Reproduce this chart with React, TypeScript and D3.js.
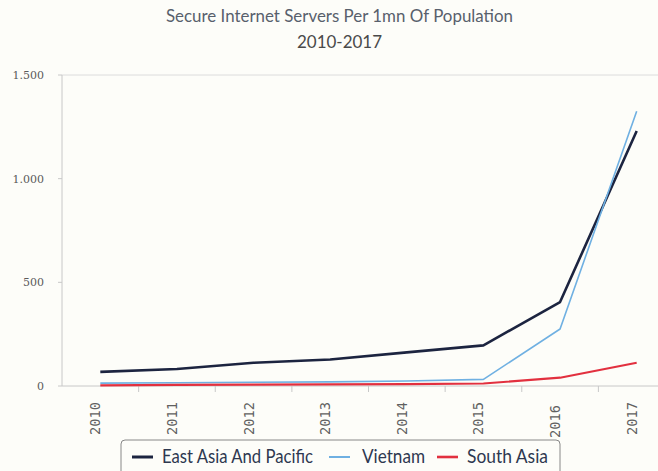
import React from "react";
import * as d3 from "d3";

const years = ["2010", "2011", "2012", "2013", "2014", "2015", "2016", "2017"];
const eastAsia = [68, 82, 112, 128, 162, 196, 405, 1230];
const vietnam = [14, 16, 18, 20, 24, 32, 275, 1325];
const southAsia = [3, 5, 7, 8, 9, 12, 40, 112];
const yTicks = [0, 500, 1000, 1500];
const title1 = "Secure Internet Servers Per 1mn Of Population";
const title2 = "2010-2017";

const series = [
  { name: "East Asia And Pacific", values: eastAsia, color: "#1c2440", width: 2.6 },
  { name: "Vietnam", values: vietnam, color: "#6fb0e2", width: 1.6 },
  { name: "South Asia", values: southAsia, color: "#e2303f", width: 2.2 },
];

export default function App() {
  const W = 658, H = 471;
  const left = 62, right = 675, top = 75, bottom = 386;
  const x = d3.scaleBand<string>().domain(years).range([left, right]);
  const y = d3.scaleLinear().domain([0, 1500]).range([bottom, top]);
  const line = d3
    .line<number>()
    .x((_, i) => (x(years[i]) as number) + x.bandwidth() / 2)
    .y((d) => y(d));
  const fmt = (v: number) => d3.format(",")(v).replace(/,/g, ".");
  const gray = "#c8c8c8";
  const font = "Lato, 'Open Sans', sans-serif";

  const legendItems = [
    { s: series[0], lx: 132, tx: 162, tl: 151 },
    { s: series[1], lx: 329, tx: 362, tl: 63 },
    { s: series[2], lx: 437, tx: 467, tl: 81 },
  ];

  return (
    <svg
      width={W}
      height={H}
      style={{ position: "absolute", left: 0, top: 0, background: "#fdfdf9" }}
    >
      <rect x={0} y={0} width={W} height={H} fill="#fdfdf9" />
      <text
        x={166}
        y={22}
        textLength={347}
        lengthAdjust="spacingAndGlyphs"
        fontFamily={font}
        fontSize={18}
        fill="#58606c"
      >
        {title1}
      </text>
      <text
        x={297}
        y={48}
        textLength={85}
        lengthAdjust="spacingAndGlyphs"
        fontFamily={font}
        fontSize={18}
        fill="#4a4a4a"
      >
        {title2}
      </text>

      {/* plot frame */}
      <line x1={left} x2={W} y1={top} y2={top} stroke="#dcdcdc" strokeWidth={1} />
      <line x1={left} x2={left} y1={top} y2={bottom} stroke={gray} strokeWidth={1} />
      <line x1={left} x2={W} y1={bottom} y2={bottom} stroke={gray} strokeWidth={1} />

      {yTicks.map((t) => (
        <g key={t}>
          <line x1={left - 4} x2={left} y1={y(t)} y2={y(t)} stroke={gray} />
          <text
            x={44}
            y={y(t) + 4}
            textAnchor="end"
            fontFamily="'DejaVu Serif', serif"
            fontSize={11}
            fill="#5a5a5a"
          >
            {fmt(t)}
          </text>
        </g>
      ))}

      {years.slice(1).map((yr) => (
        <line
          key={yr}
          x1={x(yr) as number}
          x2={x(yr) as number}
          y1={bottom}
          y2={bottom + 6}
          stroke={gray}
        />
      ))}

      {years.map((yr) => {
        const cx = (x(yr) as number) + x.bandwidth() / 2;
        return (
          <text
            key={yr}
            transform={`translate(${cx},${yr === "2016" ? 438 : 435}) rotate(-90)`}
            textLength={33}
            lengthAdjust="spacingAndGlyphs"
            fontFamily="'DejaVu Sans Mono', monospace"
            fontSize={13.5}
            fill="#606060"
          >
            {yr}
          </text>
        );
      })}

      {series.map((s) => (
        <path
          key={s.name}
          d={line(s.values) as string}
          fill="none"
          stroke={s.color}
          strokeWidth={s.width}
          strokeLinejoin="round"
        />
      ))}

      {/* legend */}
      <rect
        x={121}
        y={440}
        width={439}
        height={40}
        rx={4}
        fill="#fdfdf9"
        stroke="#888"
        strokeWidth={1}
      />
      {legendItems.map(({ s, lx, tx, tl }) => (
        <g key={s.name}>
          <line x1={lx} x2={lx + 21} y1={457} y2={457} stroke={s.color} strokeWidth={s.width + 0.4} />
          <text
            x={tx}
            y={463}
            textLength={tl}
            lengthAdjust="spacingAndGlyphs"
            fontFamily={font}
            fontSize={19}
            fill="#2e3850"
          >
            {s.name}
          </text>
        </g>
      ))}
    </svg>
  );
}
